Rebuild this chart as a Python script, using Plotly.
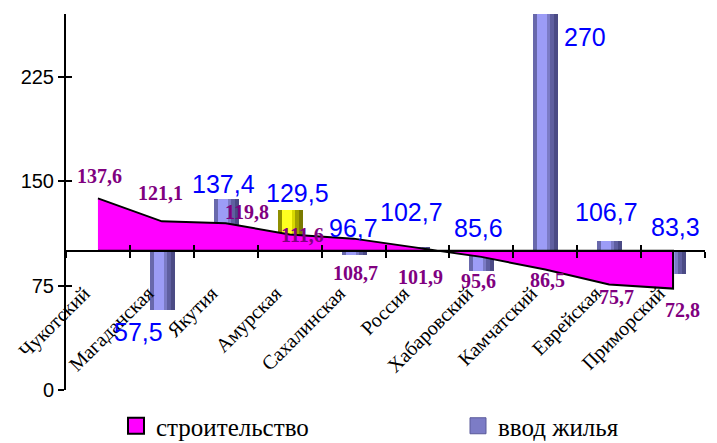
import plotly.graph_objects as go

# ---------------- data ----------------
categories = ["Чукотский", "Магаданская", "Якутия", "Амурская", "Сахалинская",
              "Россия", "Хабаровский", "Камчатский", "Еврейская", "Приморский"]
construction = [137.6, 121.1, 119.8, 111.6, 108.7, 101.9, 95.6, 86.5, 75.7, 72.8]
housing = [None, 57.5, 137.4, 129.5, 96.7, 102.7, 85.6, 270, 106.7, 83.3]
y_tick_values = [0, 75, 150, 225]
baseline = 100
highlight = "Амурская"
series_names = ["строительство", "ввод жилья"]

# ---------------- label offsets (px) ----------------
constr_dx = [2, -1, 21, 13, 2, 3, -3, 2, 7, 9]
constr_dy = [22, 28, 11, 0, -34, -29, -24, -10, -12, -21]
housing_dx = [0, -23, -2, 8, 0, -6, -3, 40, -3, 2]
housing_dy = [0, -22, 15, 17, 27, 35, 43, -23, 29, 47]

W, H = 717, 443
ML, MR, MT, MB = 66, 12, 14, 53
cat_px = (W - ML - MR) / len(categories)
Y_MAX = 270
SERIF = "Times New Roman, Liberation Serif, serif"
SANS = "Arial, Liberation Sans, sans-serif"


def fmt(v):
    return ("%g" % v).replace(".", ",")


fig = go.Figure()

# area (polygon between baseline and values)
fig.add_trace(go.Scatter(
    x=categories + categories[::-1],
    y=construction + [baseline] * len(categories),
    fill="toself", fillcolor="#FF00FF",
    mode="lines", line=dict(color="black", width=2),
    showlegend=False, hoverinfo="skip"))

# striped bars to imitate cylinder shading: (left px, right px, blue, yellow)
stripes = [(-12, 13, "#4b4b85", "#7a7a00"),
           (-12, 9, "#5f5fa0", "#a0a000"),
           (-12, 5, "#7b7bc5", "#d8d800"),
           (-8, 2, "#9c9cf6", "#ffff20"),
           (-12, -8, "#6868ac", "#8f8f00")]
for left, right, blue, yellow in stripes:
    colors = [yellow if c == highlight else blue for c in categories]
    fig.add_trace(go.Bar(
        x=categories,
        y=[(v - baseline) if v is not None else None for v in housing],
        base=baseline,
        offset=left / cat_px, width=(right - left) / cat_px,
        marker=dict(color=colors, line=dict(width=0)),
        showlegend=False, hoverinfo="skip"))

# legend entries (each in its own legend box)
fig.add_trace(go.Scatter(
    x=[None], y=[None], mode="markers", name=series_names[0],
    marker=dict(symbol="square", size=16, color="#FF00FF",
                line=dict(color="black", width=2)),
    xaxis="x2", yaxis="y2", legend="legend"))
fig.add_trace(go.Scatter(
    x=[None], y=[None], mode="markers", name=series_names[1],
    marker=dict(symbol="square", size=16, color="#7c7cc6",
                line=dict(color="#5a5a9a", width=1)),
    xaxis="x2", yaxis="y2", legend="legend2"))

# data labels
for i, (c, v) in enumerate(zip(categories, construction)):
    fig.add_annotation(x=c, y=v, text=fmt(v), showarrow=False,
                       xshift=constr_dx[i], yshift=constr_dy[i],
                       font=dict(family=SERIF, size=20,
                                 color="#800080", weight="bold"))
for i, (c, v) in enumerate(zip(categories, housing)):
    if v is None:
        continue
    fig.add_annotation(x=c, y=v, text=fmt(v), showarrow=False,
                       xshift=housing_dx[i], yshift=housing_dy[i],
                       font=dict(family=SANS, size=25, color="#0000FF"))

axis_pos = baseline / Y_MAX
legend_common = dict(orientation="h", xref="container", yref="container",
                     xanchor="left", yanchor="middle",
                     font=dict(family=SERIF, size=25, color="black"),
                     itemwidth=30, bgcolor="rgba(0,0,0,0)")
fig.update_layout(
    width=W, height=H,
    margin=dict(l=ML, r=MR, t=MT, b=MB, autoexpand=False),
    paper_bgcolor="white", plot_bgcolor="white",
    barmode="overlay", bargap=0,
    xaxis=dict(type="category", range=[-0.5, len(categories) - 0.5],
               anchor="free", position=axis_pos,
               showline=True, linecolor="black", linewidth=2,
               ticks="outside", tickson="boundaries", ticklen=6,
               tickwidth=2, tickcolor="black",
               tickangle=-45, ticklabelstandoff=22, ticklabelshift=-14,
               tickfont=dict(family=SERIF, size=20, color="black"),
               showgrid=False, zeroline=False, fixedrange=True),
    yaxis=dict(range=[0, Y_MAX], tickvals=y_tick_values,
               showline=True, linecolor="black", linewidth=2,
               ticks="outside", ticklen=6, tickwidth=2, tickcolor="black",
               tickfont=dict(family=SANS, size=20, color="black"),
               showgrid=False, zeroline=False),
    xaxis2=dict(overlaying="x", range=[-0.5, len(categories) - 0.5],
                anchor="free", position=axis_pos,
                tickvals=[i + 0.5 for i in range(len(categories))],
                ticks="inside", ticklen=6, tickwidth=2, tickcolor="black",
                showticklabels=False, showline=False, showgrid=False,
                zeroline=False),
    yaxis2=dict(overlaying="y", range=[0, Y_MAX], tickvals=y_tick_values,
                anchor="x2", side="left",
                ticks="inside", ticklen=6, tickwidth=2, tickcolor="black",
                showticklabels=False, showline=False, showgrid=False,
                zeroline=False),
    legend=dict(x=116 / W, y=17 / H, **legend_common),
    legend2=dict(x=458 / W, y=17 / H, **legend_common),
    showlegend=True,
)

fig.write_html("out.html",
               config={"displayModeBar": False},
               post_script="document.body.style.margin='0';")
